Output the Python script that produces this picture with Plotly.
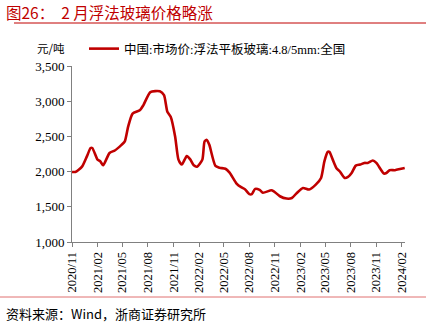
import plotly.graph_objects as go

dates = [
    "2020-11-01", "2020-11-13", "2020-12-07", "2020-12-25", "2021-01-07", "2021-01-13",
    "2021-02-01", "2021-02-10", "2021-02-21", "2021-03-16", "2021-04-04", "2021-04-28",
    "2021-05-10", "2021-05-22", "2021-06-07", "2021-07-04", "2021-07-16", "2021-08-10",
    "2021-09-13", "2021-09-28", "2021-10-10", "2021-10-22", "2021-11-07", "2021-11-19",
    "2021-12-01", "2021-12-19", "2022-01-01", "2022-01-13", "2022-01-25", "2022-02-13",
    "2022-02-21", "2022-03-01", "2022-03-10", "2022-04-01", "2022-04-16", "2022-05-07",
    "2022-05-22", "2022-06-16", "2022-07-04", "2022-07-16", "2022-08-01", "2022-08-10",
    "2022-08-22", "2022-09-07", "2022-09-19", "2022-10-19", "2022-10-28", "2022-11-19",
    "2022-12-13", "2023-01-01", "2023-01-19", "2023-02-10", "2023-03-04", "2023-03-28",
    "2023-04-16", "2023-04-28", "2023-05-10", "2023-05-16", "2023-05-28", "2023-06-10",
    "2023-06-22", "2023-07-10", "2023-07-22", "2023-08-04", "2023-08-19", "2023-09-04",
    "2023-09-19", "2023-10-01", "2023-10-19", "2023-11-01", "2023-11-28", "2023-12-07",
    "2023-12-19", "2024-01-07", "2024-01-25", "2024-02-11",
]
prices = [
    1995, 1995, 2070, 2220, 2335, 2335,
    2170, 2150, 2090, 2265, 2300, 2380,
    2430, 2640, 2825, 2875, 2945, 3130,
    3140, 3085, 2850, 2780, 2500, 2170,
    2100, 2220, 2170, 2090, 2070, 2170,
    2430, 2450, 2380, 2080, 2055, 2040,
    1985, 1830, 1775, 1750, 1680, 1680,
    1755, 1740, 1700, 1735, 1720, 1650,
    1617, 1625, 1697, 1768, 1745, 1815,
    1910, 2146, 2280, 2280, 2170, 2052,
    2005, 1910, 1925, 1980, 2085, 2100,
    2123, 2123, 2157, 2123, 1972, 1980,
    2020, 2020, 2037, 2052,
]
tick_dates = [
    "2020-11-01", "2021-02-01", "2021-05-01", "2021-08-01", "2021-11-01", "2022-02-01",
    "2022-05-01", "2022-08-01", "2022-11-01", "2023-02-01", "2023-05-01", "2023-08-01",
    "2023-11-01", "2024-02-01",
]
tick_labels = [d[:4] + "/" + d[5:7] for d in tick_dates]
series_name = "中国:市场价:浮法平板玻璃:4.8/5mm:全国"
title_text = "图26：  2 月浮法玻璃价格略涨"
source_text = "资料来源：Wind，浙商证券研究所"
unit_text = "元/吨"

RED = "#c00000"
SERIF = "Liberation Serif, Noto Sans CJK SC"
CJK = "Noto Sans CJK SC"

fig = go.Figure()
fig.add_trace(go.Scatter(
    x=dates, y=prices, mode="lines", name=series_name,
    line=dict(color=RED, width=2.6, shape="spline", smoothing=0.6),
))

L, R, T, B = 72, 30, 66, 87
W, H = 435, 329
pw, ph = W - L - R, H - T - B

def px(x):
    return (x - L) / pw

def py(y):
    return (H - B - y) / ph

fig.update_layout(
    width=W, height=H,
    margin=dict(l=L, r=R, t=T, b=B),
    paper_bgcolor="white", plot_bgcolor="white",
    showlegend=True,
    legend=dict(x=px(84), y=py(49), xanchor="left", yanchor="middle",
                orientation="h", font=dict(family=SERIF, size=12.5, color="#000"),
                bgcolor="rgba(0,0,0,0)", itemwidth=30),
    xaxis=dict(
        type="date", range=["2020-11-01", "2024-02-12"],
        tickvals=tick_dates, ticktext=tick_labels, tickangle=-90,
        showgrid=False, zeroline=False,
        showline=True, linecolor="#808080", linewidth=1,
        ticks="outside", ticklen=4, tickcolor="#808080",
        tickfont=dict(family="Liberation Serif", size=12.5, color="#000"),
    ),
    yaxis=dict(
        range=[1000, 3500], tickvals=[1000, 1500, 2000, 2500, 3000, 3500],
        tickformat=",d", showgrid=False, zeroline=False,
        showline=True, linecolor="#808080", linewidth=1,
        ticks="outside", ticklen=4, tickcolor="#808080",
        tickfont=dict(family="Liberation Serif", size=13, color="#000"),
    ),
    annotations=[
        dict(text=title_text, x=px(4), y=py(12), xref="paper", yref="paper",
             xanchor="left", yanchor="middle", showarrow=False,
             font=dict(family=CJK, size=15.5, color=RED)),
        dict(text=unit_text, x=px(35), y=py(48), xref="paper", yref="paper",
             xanchor="left", yanchor="middle", showarrow=False,
             font=dict(family=CJK, size=11.5, color="#000")),
        dict(text=source_text, x=px(4), y=py(313), xref="paper", yref="paper",
             xanchor="left", yanchor="middle", showarrow=False,
             font=dict(family=CJK, size=13, color="#000")),
    ],
    shapes=[
        dict(type="line", xref="paper", yref="paper", x0=px(14), x1=px(426),
             y0=py(23), y1=py(23), line=dict(color=RED, width=1)),
        dict(type="line", xref="paper", yref="paper", x0=px(0), x1=px(426),
             y0=py(297), y1=py(297), line=dict(color="#e07070", width=1)),
    ],
)

fig.write_html("out.html")
